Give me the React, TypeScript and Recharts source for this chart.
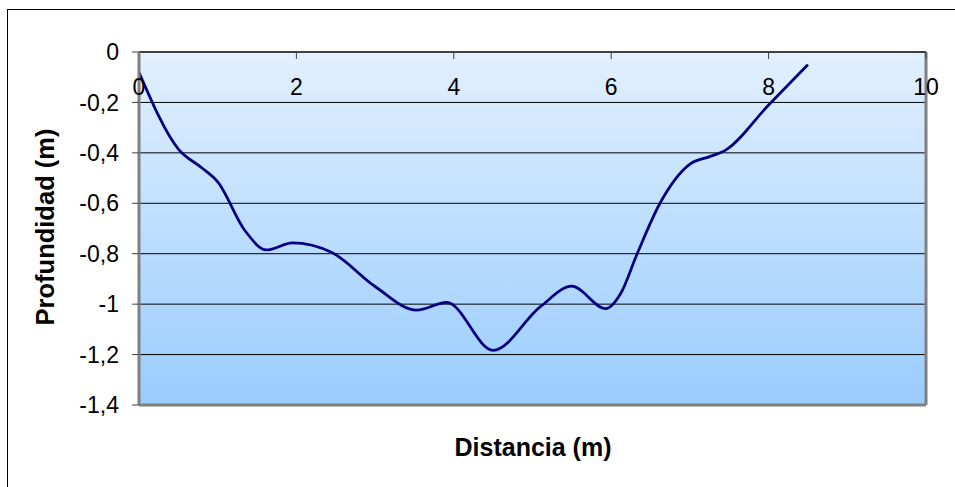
import React from 'react';
import { LineChart, Line, XAxis, YAxis, CartesianGrid, ReferenceLine } from 'recharts';

const distancia = [0, 0.5, 0.8, 1.0, 1.35, 1.62, 1.95, 2.45, 3.0, 3.53, 3.91, 4.5, 5.1, 5.5, 5.93, 6.12, 6.33, 6.62, 7.0, 7.25, 7.45, 8.0, 8.5];
const profundidad = [-0.08, -0.385, -0.46, -0.515, -0.71, -0.785, -0.757, -0.795, -0.93, -1.024, -0.993, -1.183, -1.01, -0.929, -1.018, -0.958, -0.8, -0.6, -0.445, -0.415, -0.39, -0.21, -0.05];
const xTicks = [0, 2, 4, 6, 8, 10];
const yTicks = [0, -0.2, -0.4, -0.6, -0.8, -1, -1.2, -1.4];
const xTitle = 'Distancia (m)';
const yTitle = 'Profundidad (m)';

const data = distancia.map((d, i) => ({ x: d, y: profundidad[i] }));
const fmt = (v: number) => String(v).replace('.', ',');
const FONT = '"Liberation Sans", Arial, sans-serif';

export default function App() {
  return (
    <div style={{ position: 'absolute', left: 0, top: 0, width: 955, height: 487, overflow: 'hidden', background: '#fff', fontFamily: FONT }}>
      <div style={{ position: 'absolute', left: 7, top: 9, width: 980, height: 520, border: '1px solid #000' }} />
      <div style={{ position: 'absolute', left: 0, top: 0 }}>
        <LineChart width={955} height={487} data={data} margin={{ top: 52, right: 29, bottom: 82, left: 39 }}>
          <defs>
            <linearGradient id="bg" x1="0" y1="0" x2="0" y2="1">
              <stop offset="0%" stopColor="#e2f0fe" />
              <stop offset="100%" stopColor="#99ccff" />
            </linearGradient>
          </defs>
          <CartesianGrid vertical={false} horizontal={true} fill="url(#bg)" fillOpacity={1} stroke="#000" strokeWidth={1} />
          <ReferenceLine x={10} stroke="#808080" strokeWidth={3} />
          <ReferenceLine y={-1.4} stroke="#808080" strokeWidth={3} />
          <XAxis
            dataKey="x"
            type="number"
            domain={[0, 10]}
            ticks={xTicks}
            orientation="top"
            mirror
            tickSize={7}
            tickMargin={20}
            axisLine={{ stroke: '#404040', strokeWidth: 2 }}
            tickLine={{ stroke: '#404040' }}
            tick={{ fill: '#000', fontSize: 23, fontFamily: FONT }}
            allowDataOverflow
          />
          <YAxis
            type="number"
            domain={[-1.4, 0]}
            ticks={yTicks}
            width={100}
            tickSize={7}
            tickMargin={13}
            tickFormatter={fmt}
            axisLine={{ stroke: '#808080', strokeWidth: 3 }}
            tickLine={{ stroke: '#404040' }}
            tick={{ fill: '#000', fontSize: 23, fontFamily: FONT }}
            allowDataOverflow
          />
          <Line type="monotone" dataKey="y" stroke="#000080" strokeWidth={2.75} dot={false} isAnimationActive={false} />
        </LineChart>
      </div>
      <div style={{ position: 'absolute', left: 533, top: 447, transform: 'translate(-50%, -50%)', fontSize: 25, fontWeight: 'bold', whiteSpace: 'nowrap', color: '#000' }}>{xTitle}</div>
      <div style={{ position: 'absolute', left: 45, top: 227, transform: 'translate(-50%, -50%) rotate(-90deg)', fontSize: 25.5, fontWeight: 'bold', whiteSpace: 'nowrap', color: '#000' }}>{yTitle}</div>
    </div>
  );
}
